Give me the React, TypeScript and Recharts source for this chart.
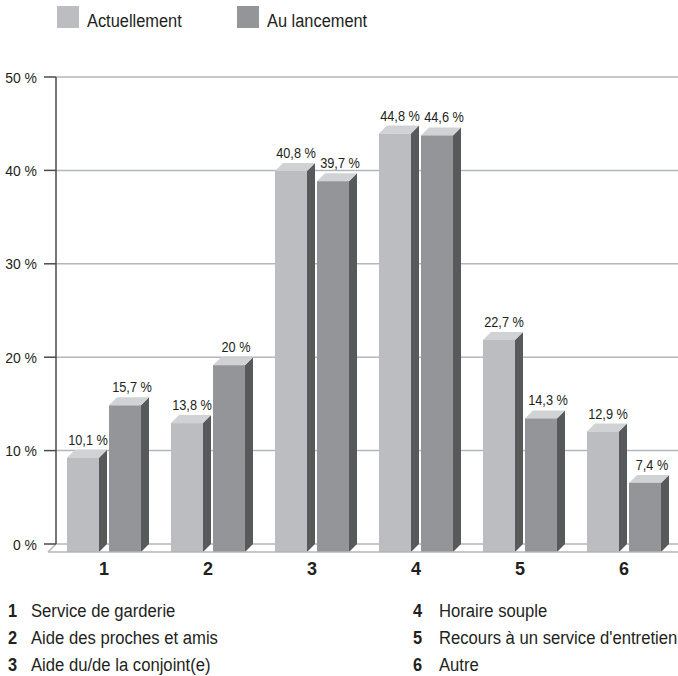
import { BarChart, Bar, XAxis, YAxis, CartesianGrid, Legend, LabelList, ReferenceLine } from 'recharts'

const categories = ['1', '2', '3', '4', '5', '6']
const actuellement = [10.1, 13.8, 40.8, 44.8, 22.7, 12.9]
const auLancement = [15.7, 20, 39.7, 44.6, 14.3, 7.4]
const yTicks = [0, 10, 20, 30, 40, 50]
const descriptionsLeft = ['Service de garderie', 'Aide des proches et amis', 'Aide du/de la conjoint(e)']
const descriptionsRight = ['Horaire souple', "Recours à un service d'entretien", 'Autre']

const data = categories.map((name, i) => ({
  name,
  actuellement: actuellement[i],
  auLancement: auLancement[i],
}))

const FONT = '"Liberation Sans", sans-serif'
const INK = '#231f20'
const DEPTH = 8
const INSET = 5

const LIGHT = '#bcbdc1'
const DARK = '#939598'
const SIDE = '#58595b'
const TOP = '#d1d2d4'

const formatPercent = (v: number) => `${String(v).replace('.', ',')} %`

// Extruded column: the value sits on the back edge of the top face
function Bar3D({ x, y, width, height, fill }: any) {
  const left = x + INSET
  const w = width - INSET * 2
  const right = left + w
  const top = y + DEPTH
  const bottom = top + height
  return (
    <g>
      <polygon
        points={`${right},${top} ${right + DEPTH},${y} ${right + DEPTH},${bottom - DEPTH} ${right},${bottom}`}
        fill={SIDE}
      />
      <polygon
        points={`${left},${top} ${left + DEPTH},${y} ${right + DEPTH},${y} ${right},${top}`}
        fill={TOP}
      />
      <rect x={left} y={top} width={w} height={height} fill={fill} />
    </g>
  )
}

// Liberation Sans squeezed horizontally to get a condensed look
function ValueLabel({ x, y, width, value, dx }: any) {
  return (
    <text
      transform={`translate(${x + width / 2 + dx},${y - 5}) scale(0.85,1)`}
      textAnchor="middle"
      fontSize={15}
      fontFamily={FONT}
      fill={INK}
    >
      {formatPercent(value)}
    </text>
  )
}

function PercentTick({ x, y, payload }: any) {
  return (
    <text
      transform={`translate(${x},${y + 5.5}) scale(0.9,1)`}
      textAnchor="end"
      fontSize={15.5}
      fontFamily={FONT}
      fill={INK}
    >
      {formatPercent(payload.value)}
    </text>
  )
}

// Floor of the chart, in front of the zero gridline
function Floor({ x1, x2, y1 }: any) {
  return (
    <g stroke="#b5b6ba" strokeWidth={1.5} fill="none">
      <line x1={x1 - DEPTH} y1={y1 + DEPTH} x2={x2} y2={y1 + DEPTH} />
      <line x1={x1 - DEPTH} y1={y1 + DEPTH} x2={x1} y2={y1} />
    </g>
  )
}

const narrowText = {
  position: 'absolute',
  fontFamily: FONT,
  fontSize: 18,
  lineHeight: '20px',
  color: INK,
  whiteSpace: 'nowrap',
  transform: 'scaleX(0.91)',
  transformOrigin: 'left center',
} as const

function LegendContent({ payload }: any) {
  return (
    <div style={{ position: 'relative', height: 30 }}>
      {(payload || []).map((item: any, i: number) => (
        <div key={item.value}>
          <div
            style={{ position: 'absolute', left: 57 + i * 180, top: 6, width: 22, height: 22, background: item.color }}
          />
          <div style={{ ...narrowText, left: 87 + i * 180, top: 11 }}>{item.value}</div>
        </div>
      ))}
    </div>
  )
}

function Descriptions({ items, start, numberX, textX }: any) {
  return items.map((text: string, i: number) => (
    <div key={text}>
      <div style={{ ...narrowText, left: numberX, top: 601 + i * 27, fontWeight: 700 }}>{start + i}</div>
      <div style={{ ...narrowText, left: textX, top: 601 + i * 27, transform: 'scaleX(0.925)' }}>{text}</div>
    </div>
  ))
}

export default function App() {
  return (
    <div style={{ position: 'absolute', left: 0, top: 0, width: 678, height: 676, overflow: 'hidden', background: '#fff' }}>
      <BarChart
        width={678}
        height={676}
        data={data}
        margin={{ top: 47, right: 0, bottom: 0, left: 0 }}
        barGap={0}
        barSize={42}
      >
        <CartesianGrid horizontal vertical={false} stroke="#b5b6ba" strokeWidth={1.5} />
        <ReferenceLine y={0} shape={<Floor />} />
        <XAxis
          dataKey="name"
          height={132}
          padding={{ left: -4, right: 2 }}
          axisLine={false}
          tickLine={false}
          tickMargin={12}
          tick={{ fontFamily: FONT, fontSize: 18, fontWeight: 700, fill: INK }}
        />
        <YAxis
          width={56}
          domain={[0, 50]}
          ticks={yTicks}
          tickSize={12}
          tickMargin={7}
          axisLine={{ stroke: '#4a4a4c', strokeWidth: 1.5 }}
          tickLine={{ stroke: '#4a4a4c', strokeWidth: 1.5 }}
          tick={<PercentTick />}
        />
        <Legend verticalAlign="top" align="left" content={<LegendContent />} wrapperStyle={{ top: 0, left: 0, width: 678 }} />
        <Bar dataKey="actuellement" name="Actuellement" fill={LIGHT} shape={<Bar3D />} isAnimationActive={false}>
          <LabelList dataKey="actuellement" content={<ValueLabel dx={5} />} />
        </Bar>
        <Bar dataKey="auLancement" name="Au lancement" fill={DARK} shape={<Bar3D />} isAnimationActive={false}>
          <LabelList dataKey="auLancement" content={<ValueLabel dx={7} />} />
        </Bar>
      </BarChart>
      <Descriptions items={descriptionsLeft} start={1} numberX={8} textX={31} />
      <Descriptions items={descriptionsRight} start={4} numberX={413} textX={439} />
    </div>
  )
}
